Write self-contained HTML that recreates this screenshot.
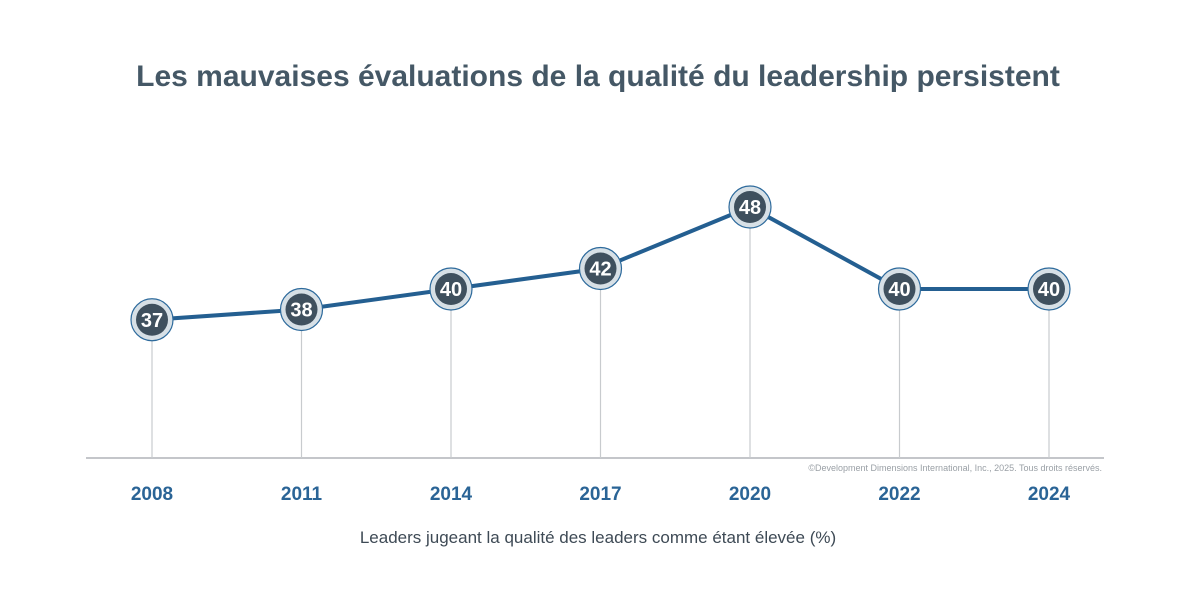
<!DOCTYPE html>
<html><head><meta charset="utf-8"><style>
body{margin:0;background:#fff;font-family:"Liberation Sans",sans-serif}
</style></head><body>
<svg id="chart" width="1201" height="601" viewBox="0 0 1201 601" xmlns="http://www.w3.org/2000/svg">
<rect width="1201" height="601" fill="#fff"/>
<text x="598" y="86" text-anchor="middle" font-size="30" font-weight="bold" fill="#455866">Les mauvaises évaluations de la qualité du leadership persistent</text>
<line x1="86" y1="458" x2="1104" y2="458" stroke="#b0b4b8" stroke-width="1.5"/>
<text x="1102" y="471" text-anchor="end" font-size="9" fill="#9aa0a6">©Development Dimensions International, Inc., 2025. Tous droits réservés.</text>
<text x="598" y="543" text-anchor="middle" font-size="17" fill="#3e4a55">Leaders jugeant la qualité des leaders comme étant élevée (%)</text>
<g id="marks"></g>
</svg>
<script>
const categories = ["2008","2011","2014","2017","2020","2022","2024"];
const values = [37,38,40,42,48,40,40];
const ns="http://www.w3.org/2000/svg";
const g=document.getElementById('marks');
function xs(i){return 152+i*149.5;}
function ys(v){return 289-(v-40)*10.25;}
function mk(t,a){const e=document.createElementNS(ns,t);for(const k in a)e.setAttribute(k,a[k]);g.appendChild(e);return e;}
categories.forEach((c,i)=>{
  const d=mk('line',{x1:xs(i),y1:ys(values[i]),x2:xs(i),y2:458,stroke:'#c8cbce','stroke-width':1.2});
  
  
  const t=mk('text',{x:xs(i),y:500,'text-anchor':'middle','font-size':19,'font-weight':'bold',fill:'#2a6496'});
  t.textContent=c;
  
  
});
const p=mk('polyline',{points:values.map((v,i)=>xs(i)+','+ys(v)).join(' '),fill:'none',stroke:'#245f91','stroke-width':4,'stroke-linejoin':'round'});


values.forEach((v,i)=>{
  const o=mk('circle',{cx:xs(i),cy:ys(v),r:21,fill:'#d7e0e6',stroke:'#2d6a9c','stroke-width':1.2});
  
  
  const n=mk('circle',{cx:xs(i),cy:ys(v),r:16,fill:'#3f505e'});
  
  
  const t=mk('text',{x:xs(i),y:ys(v)+7,'text-anchor':'middle','font-size':20,'font-weight':'bold',fill:'#fff'});
  t.textContent=v;
  
  
});
</script>
</body></html>
